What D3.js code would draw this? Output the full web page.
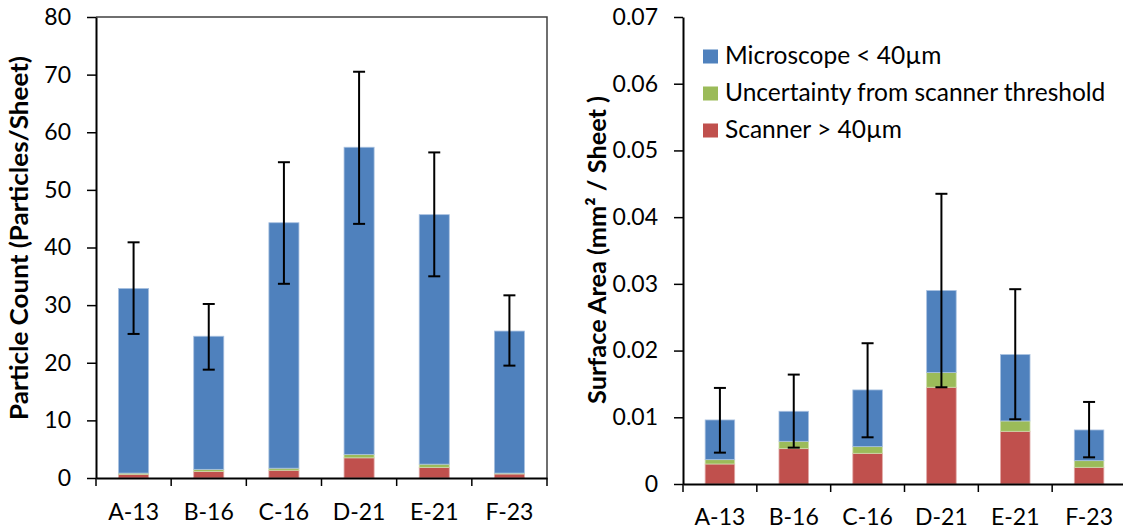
<!DOCTYPE html>
<html><head><meta charset="utf-8">
<script src="https://cdn.jsdelivr.net/npm/d3@7"></script>
<style>
body{margin:0;background:#fff;}
svg text{font-family:Lato,"Open Sans",sans-serif;fill:#000;}
</style>
</head><body>
<svg id="c" width="1123" height="531"></svg>
<script>
// ---------- data ----------
const categories = ["A-13","B-16","C-16","D-21","E-21","F-23"];
const seriesKeys = ["scanner","uncertainty","microscope"];
const legendLabels = ["Microscope < 40µm","Uncertainty from scanner threshold","Scanner > 40µm"];

// Left panel: particle count (particles/sheet)
const countScanner     = [0.65, 1.15, 1.35, 3.5, 1.85, 0.7];
const countUncertainty = [0.2, 0.35, 0.35, 0.6, 0.55, 0.15];
const countMicroscope  = [32.05, 23.1, 42.6, 53.3, 43.3, 24.65];
const countErrLow      = [25.0, 18.8, 33.7, 44.1, 35.0, 19.5];
const countErrHigh     = [40.9, 30.2, 54.8, 70.5, 56.5, 31.7];
const countTicks       = [0,10,20,30,40,50,60,70,80];
const countTickLabels  = ["0","10","20","30","40","50","60","70","80"];

// Right panel: surface area (mm² / sheet)
const areaScanner      = [0.0030, 0.0053, 0.0046, 0.0145, 0.0079, 0.0025];
const areaUncertainty  = [0.00065, 0.0011, 0.0010, 0.0022, 0.00155, 0.0010];
const areaMicroscope   = [0.00595, 0.0045, 0.0085, 0.0123, 0.00995, 0.0046];
const areaErrLow       = [0.0047, 0.00545, 0.0070, 0.0145, 0.0097, 0.0040];
const areaErrHigh      = [0.0144, 0.0164, 0.0211, 0.0435, 0.0292, 0.0123];
const areaTicks        = [0,0.01,0.02,0.03,0.04,0.05,0.06,0.07];
const areaTickLabels   = ["0","0.01","0.02","0.03","0.04","0.05","0.06","0.07"];

const colors = {microscope:"#4F81BD", uncertainty:"#9BBB59", scanner:"#C0504D"};
const strokes = {microscope:"#A9C1E0", uncertainty:"#CDDDAC", scanner:"#E0A8A6"};

const svg = d3.select("#c");

function panel(o){
  const g = svg.append("g");
  const x = d3.scaleBand().domain(categories).range([o.x0, o.x1]).padding(0);
  const y = d3.scaleLinear().domain([0, o.ymax]).range([o.yb, o.yt]);
  const rows = categories.map((c,i)=>({cat:c, scanner:o.scanner[i], uncertainty:o.uncertainty[i], microscope:o.microscope[i]}));
  const stacked = d3.stack().keys(seriesKeys)(rows);
  const bw = x.bandwidth()*0.4;

  if (o.box){
    g.append("path").attr("d", `M${o.x0},${o.yt}H${o.x1}V${o.yb}`)
      .attr("fill","none").attr("stroke","#404040").attr("stroke-width",1.5);
  }

  stacked.forEach(s=>{
    g.selectAll(null).data(s).enter().append("rect")
      .attr("x", d=>x(d.data.cat)+x.bandwidth()/2-bw/2)
      .attr("width", bw)
      .attr("y", d=>y(d[1]))
      .attr("height", d=>Math.max(0, y(d[0])-y(d[1])))
      .attr("fill", colors[s.key])
      .attr("stroke", strokes[s.key]).attr("stroke-width",0.8);
  });

  // error bars
  const eb = g.append("g").attr("stroke","#000").attr("stroke-width",2);
  categories.forEach((c,i)=>{
    const cx = x(c)+x.bandwidth()/2;
    eb.append("line").attr("x1",cx).attr("x2",cx).attr("y1",y(o.errLow[i])).attr("y2",y(o.errHigh[i]));
    [o.errLow[i], o.errHigh[i]].forEach(v=>{
      eb.append("line").attr("x1",cx-6).attr("x2",cx+6).attr("y1",y(v)).attr("y2",y(v));
    });
  });

  // y axis
  const ya = g.append("g").attr("transform",`translate(${o.x0},0)`)
    .call(d3.axisLeft(y).tickValues(o.ticks).tickFormat((d,i)=>o.tickLabels[i]).tickSize(9).tickPadding(16).tickSizeOuter(0));
  ya.select(".domain").attr("stroke","#000").attr("stroke-width",2);
  ya.selectAll(".tick line").attr("stroke","#000").attr("stroke-width",1.5);
  ya.selectAll("text").attr("font-size",23).attr("font-family","Lato");

  // x axis
  const xa = g.append("g").attr("transform",`translate(0,${o.yb})`)
    .call(d3.axisBottom(x).tickSize(0).tickPadding(o.xPad).tickSizeOuter(0));
  xa.select(".domain").attr("stroke","#000").attr("stroke-width",2);
  xa.selectAll("text").attr("font-size",23).attr("font-family","Lato");
  const bounds = categories.map(c=>x(c)).concat([x.range()[1]]);
  xa.selectAll(null).data(bounds).enter().append("line")
    .attr("x1",d=>d).attr("x2",d=>d).attr("y1",0).attr("y2",8)
    .attr("stroke","#000").attr("stroke-width",1.5);

  // axis title
  g.append("text").attr("transform",`translate(${o.titleX},${o.titleY}) rotate(-90)`)
    .attr("text-anchor","middle").attr("font-size",24).attr("font-weight","bold")
    .attr("textLength", o.titleLen).attr("lengthAdjust","spacingAndGlyphs")
    .text(o.title);
  return {g,x,y};
}

panel({x0:96, x1:547, yt:17, yb:478, ymax:80,
  scanner:countScanner, uncertainty:countUncertainty, microscope:countMicroscope,
  errLow:countErrLow, errHigh:countErrHigh, ticks:countTicks, tickLabels:countTickLabels,
  box:true, xPad:26, title:"Particle Count (Particles/Sheet)", titleX:28, titleY:238, titleLen:364});

panel({x0:683, x1:1126, yt:17, yb:484, ymax:0.07,
  scanner:areaScanner, uncertainty:areaUncertainty, microscope:areaMicroscope,
  errLow:areaErrLow, errHigh:areaErrHigh, ticks:areaTicks, tickLabels:areaTickLabels,
  box:false, xPad:25, title:"Surface Area (mm² / Sheet )", titleX:606, titleY:250, titleLen:308});

// legend
const legendKeys = ["microscope","uncertainty","scanner"];
const lg = svg.append("g");
legendKeys.forEach((k,i)=>{
  const by = 63.5 + i*37;
  lg.append("rect").attr("x",703).attr("y",by-14).attr("width",15).attr("height",14).attr("fill",colors[k]);
  lg.append("text").attr("x",725).attr("y",by).attr("font-size",24.5).text(legendLabels[i]);
});
</script>
</body></html>
